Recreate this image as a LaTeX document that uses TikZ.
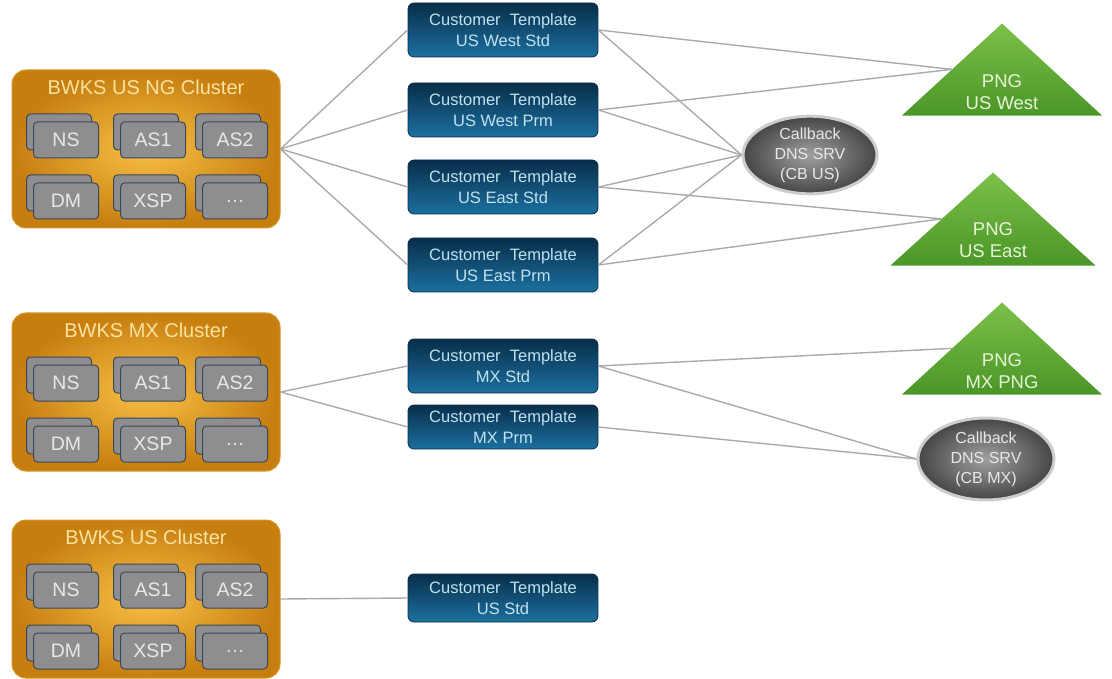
\documentclass[tikz,border=0pt]{standalone}
\usepackage{fontspec}
\setmainfont{Liberation Sans}
\usetikzlibrary{shapes.geometric,positioning,calc}
\definecolor{clIn}{RGB}{248,192,72}
\definecolor{clOut}{RGB}{198,126,14}
\definecolor{clEdge}{RGB}{214,150,40}
\definecolor{clText}{RGB}{250,226,160}
\definecolor{srvFill}{RGB}{142,142,144}
\definecolor{srvEdge}{RGB}{58,72,88}
\definecolor{srvText}{RGB}{232,232,232}
\definecolor{tplTop}{RGB}{8,46,74}
\definecolor{tplBot}{RGB}{28,112,160}
\definecolor{tplText}{RGB}{192,226,240}
\definecolor{cbIn}{RGB}{160,160,160}
\definecolor{cbOut}{RGB}{70,70,70}
\definecolor{cbEdge}{RGB}{205,205,205}
\definecolor{pngTop}{RGB}{124,192,72}
\definecolor{pngBot}{RGB}{74,150,40}
\definecolor{pngText}{RGB}{232,244,216}
\definecolor{connGray}{RGB}{170,170,170}
\tikzset{
    cluster/.style={rectangle, rounded corners=14pt, minimum width=268pt, minimum height=158pt,
        inner color=clIn, outer color=clOut, draw=clEdge, line width=1pt},
    clustertitle/.style={text=clText, font=\fontsize{20}{22}\selectfont, inner sep=0pt},
    srvback/.style={rectangle, rounded corners=4pt, minimum width=65pt, minimum height=36pt,
        fill=srvFill, draw=srvEdge, line width=1pt},
    srvfront/.style={srvback, text=srvText, font=\fontsize{19.5}{20}\selectfont},
    tmpl/.style={rectangle, rounded corners=6pt, minimum width=190pt, minimum height=54pt,
        top color=tplTop, bottom color=tplBot, draw=tplTop, line width=0.8pt,
        text=tplText, font=\fontsize{16.5}{20.5}\selectfont, align=center, inner sep=2pt},
    callback/.style={ellipse, minimum width=134pt, minimum height=72pt, inner sep=0pt,
        inner color=cbIn, outer color=cbOut, draw=cbEdge, line width=3pt,
        text=srvText, font=\fontsize{16}{20}\selectfont, align=center},
    png/.style={isosceles triangle, isosceles triangle stretches, shape border rotate=90,
        minimum width=200pt, minimum height=92pt, inner sep=0pt,
        top color=pngTop, bottom color=pngBot, anchor=apex},
    pngtext/.style={text=pngText, font=\fontsize{18.5}{22}\selectfont, align=center, inner sep=0pt},
    conn/.style={draw=connGray, line width=1.4pt}
}
\newcommand{\bwkscluster}[3]{%
    \node[cluster] (#1) at (146,#2) {};
    \node[clustertitle] (#1title) at ($(#1.north)+(0,18)$) {#3};
    \foreach \lbl/\dx/\dy [count=\i] in {NS/-80/-9, AS1/7/-9, AS2/89/-9, DM/-80/52, XSP/7/52, \ldots/89/52} {
        \node[srvback] at ($(#1)+(\dx-7,\dy-8)$) {};
        \node[srvfront] (#1s\i) at ($(#1)+(\dx,\dy)$) {\lbl};
    }
}

\begin{document}
\begin{tikzpicture}[x=1pt,y=-1pt]
\useasboundingbox (0,0) rectangle (1112,679);
\bwkscluster{usng}{149}{BWKS US NG Cluster}
\bwkscluster{mx}{392}{BWKS MX Cluster}
\bwkscluster{us}{599}{BWKS US Cluster}

\node[tmpl] (wstd) at (503,30) {Customer~~Template\\US West Std};
\node[tmpl] (wprm) at (503,110) {Customer~~Template\\US West Prm};
\node[tmpl] (estd) at (503,187) {Customer~~Template\\US East Std};
\node[tmpl] (eprm) at (503,265) {Customer~~Template\\US East Prm};
\node[tmpl] (mxstd) at (503,366) {Customer~~Template\\MX Std};
\node[tmpl, minimum height=44pt] (mxprm) at (503,427) {Customer~~Template\\MX Prm};
\node[tmpl, minimum height=48pt] (usstd) at (503,598) {Customer~~Template\\US Std};

\node[callback] (cbus) at (810,155) {Callback\\DNS SRV\\(CB US)};
\node[callback, minimum width=136pt, minimum height=82pt] (cbmx) at (986,459) {Callback\\DNS SRV\\(CB MX)};

\node[png] (pngw) at (1002,23) {};
\node[pngtext] (pngwtext) at (1002,92) {PNG\\US West};
\node[png, minimum width=205pt, minimum height=93pt] (pnge) at (993,172) {};
\node[pngtext] (pngetext) at (993,240) {PNG\\US East};
\node[png] (pngmx) at (1002,302) {};
\node[pngtext] (pngmxtext) at (1002,371) {PNG\\MX PNG};

\foreach \t in {wstd,wprm,estd,eprm} {
    \draw[conn] (usng.east) -- (\t.west);
    \draw[conn] (\t.east) -- (cbus.west);
}
\draw[conn] (wstd.east) -- (pngw.left side);
\draw[conn] (wprm.east) -- (pngw.left side);
\draw[conn] (estd.east) -- (pnge.left side);
\draw[conn] (eprm.east) -- (pnge.left side);
\draw[conn] (mx.east) -- (mxstd.west);
\draw[conn] (mx.east) -- (mxprm.west);
\draw[conn] (mxstd.east) -- (pngmx.left side);
\draw[conn] (mxstd.east) -- (cbmx.west);
\draw[conn] (mxprm.east) -- (cbmx.west);
\draw[conn] (us.east) -- (usstd.west);
\end{tikzpicture}
\end{document}
